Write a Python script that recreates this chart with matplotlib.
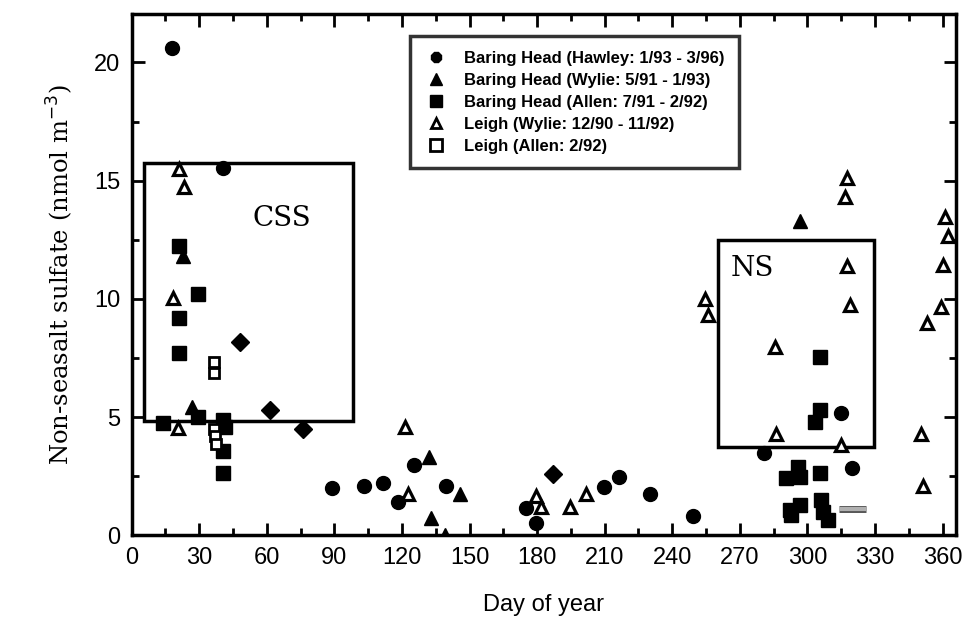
import matplotlib
matplotlib.use("Agg")
import matplotlib.pyplot as plt
from matplotlib.lines import Line2D
from matplotlib.patches import Rectangle
import matplotlib.patheffects as pe

# ---------------- data ----------------
hawley_day = [17.9, 40.4, 89, 103.3, 111.6, 118.4, 125.4, 139.7, 175, 179.3,
              209.8, 216.5, 230.2, 249, 280.6, 315, 319.7]
hawley_val = [20.6, 15.53, 2.0, 2.09, 2.2, 1.42, 2.98, 2.09, 1.15, 0.54,
              2.04, 2.49, 1.75, 0.84, 3.5, 5.19, 2.84]
hawley_d_day = [48, 61.3, 76, 187]
hawley_d_val = [8.2, 5.3, 4.49, 2.6]

wylie_bh_day = [22.6, 26.6, 132, 132.8, 139, 145.8, 296.5]
wylie_bh_val = [11.8, 5.42, 3.3, 0.73, 0.0, 1.75, 13.3]

allen_bh_day = [14.1, 21.2, 21.2, 21.2, 29.3, 29.6, 40.6, 41.4, 40.4, 40.4,
                305.7, 305.4, 303.2, 295.8, 290.6, 296.5, 305.4, 292.1, 296.5,
                292.8, 306, 307, 309]
allen_bh_val = [4.77, 12.24, 9.18, 7.73, 10.2, 5.0, 4.88, 4.6, 3.59, 2.66,
                7.53, 5.3, 4.81, 2.91, 2.42, 2.49, 2.66, 1.08, 1.29,
                0.87, 1.5, 1.0, 0.66]

leigh_w_day = [18.5, 20.7, 21.2, 23.4, 121.5, 122.8, 179.3, 181.8, 194.5, 201.7,
               254.5, 255.7, 285.5, 286, 315, 316.7, 317.5, 317.6, 318.7, 350.4,
               351.1, 353, 359.5, 360.4, 361.2, 362.2]
leigh_w_val = [10.03, 4.53, 15.48, 14.72, 4.58, 1.75, 1.67, 1.19, 1.19, 1.75,
               10.0, 9.32, 7.96, 4.28, 3.83, 14.33, 15.1, 11.4, 9.75, 4.29,
               2.09, 8.97, 9.67, 11.44, 13.48, 12.66]

leigh_a_day = [36.5, 36.5, 36.7, 36.9, 37.3]
leigh_a_val = [7.32, 6.86, 4.5, 4.2, 3.85]

gray_bar_day = [314, 326]
gray_bar_val = [1.12, 1.12]

labels = ["Baring Head (Hawley: 1/93 - 3/96)",
          "Baring Head (Wylie: 5/91 - 1/93)",
          "Baring Head (Allen: 7/91 - 2/92)",
          "Leigh (Wylie: 12/90 - 11/92)",
          "Leigh (Allen: 2/92)"]

# boxes (day_start, day_end, val_low, val_high) and labels
css_box = (5.5, 98.1, 4.85, 15.74)
ns_box = (260.4, 329.4, 3.75, 12.49)
css_label = ("CSS", 66.8, 13.4)
ns_label = ("NS", 275.6, 11.3)

xticks = list(range(0, 361, 30))
yticks = [0, 5, 10, 15, 20]

# ---------------- plot ----------------
fig = plt.figure(figsize=(9.68, 6.27), dpi=100)
ax = fig.add_axes([0.136, 0.146, 0.8517, 0.8317])

ms = 10
ax.plot(hawley_day, hawley_val, 'o', color='black', ms=ms, zorder=3)
ax.plot(hawley_d_day, hawley_d_val, 'D', color='black', ms=9, zorder=3)
ax.plot(wylie_bh_day, wylie_bh_val, '^', color='black', ms=ms, zorder=3)
ax.plot(allen_bh_day, allen_bh_val, 's', color='black', ms=9.5, zorder=3)
ax.plot(leigh_w_day, leigh_w_val, '^', mfc='white', mec='black', mew=2.3,
        ms=9, zorder=3)
ax.plot(leigh_a_day, leigh_a_val, 's', mfc='white', mec='black', mew=2,
        ms=7.5, zorder=3)
ax.plot(gray_bar_day, gray_bar_val, '-', color='#b0b0b0', lw=3,
        solid_capstyle='butt', zorder=3,
        path_effects=[pe.Stroke(linewidth=5, foreground='#555555'), pe.Normal()])

for (x0, x1, y0, y1) in (css_box, ns_box):
    ax.add_patch(Rectangle((x0, y0), x1 - x0, y1 - y0, fill=False,
                           ec='black', lw=2.5, zorder=2))

for (txt, x, y) in (css_label, ns_label):
    ax.text(x, y, txt, fontsize=20, family='DejaVu Serif', ha='center',
            va='center')

ax.set_xlim(0, 366)
ax.set_ylim(0, 22.05)
ax.set_xticks(xticks)
ax.set_yticks(yticks)
ax.set_xticks(list(range(15, 366, 30)), minor=True)
ax.set_yticks([2.5, 7.5, 12.5, 17.5], minor=True)

for s in ax.spines.values():
    s.set_linewidth(2.5)
ax.tick_params(which='both', direction='in', top=True, right=True, width=2)
ax.tick_params(which='major', length=9, labelsize=17, pad=8)
ax.tick_params(which='minor', length=5)
for lab in ax.get_xticklabels() + ax.get_yticklabels():
    lab.set_fontfamily('Liberation Sans')

ax.set_xlabel("Day of year", fontsize=17, family='Liberation Sans', labelpad=18)
ax.set_ylabel("Non-seasalt sulfate (nmol m$^{-3}$)", fontsize=17.5,
              family='DejaVu Serif', labelpad=14)

handles = [
    Line2D([], [], ls='none', marker='8', color='black', ms=8),
    Line2D([], [], ls='none', marker='^', color='black', ms=8),
    Line2D([], [], ls='none', marker='s', color='black', ms=8),
    Line2D([], [], ls='none', marker='^', mfc='white', mec='black', mew=2, ms=7),
    Line2D([], [], ls='none', marker='s', mfc='white', mec='black', mew=2, ms=8),
]
leg = ax.legend(handles, labels, loc='upper left', bbox_to_anchor=(0.338, 0.957),
                frameon=True, fancybox=False, edgecolor='black',
                prop={'family': 'Liberation Sans', 'size': 12, 'weight': 'bold'},
                labelspacing=0.42, handletextpad=1.0, borderpad=0.85,
                handlelength=1.4, borderaxespad=0)
leg.get_frame().set_linewidth(2.5)

fig.savefig("out.png", dpi=100)
